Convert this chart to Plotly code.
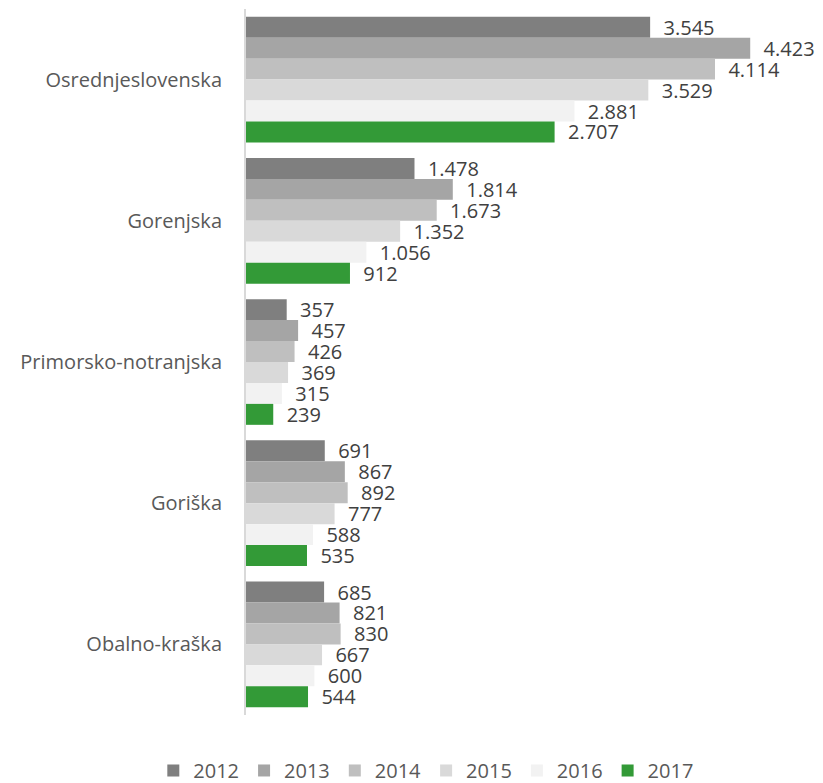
import plotly.graph_objects as go

categories = ["Osrednjeslovenska", "Gorenjska", "Primorsko-notranjska", "Goriška", "Obalno-kraška"]
years = ["2012", "2013", "2014", "2015", "2016", "2017"]
values = {
    "2012": [3545, 1478, 357, 691, 685],
    "2013": [4423, 1814, 457, 867, 821],
    "2014": [4114, 1673, 426, 892, 830],
    "2015": [3529, 1352, 369, 777, 667],
    "2016": [2881, 1056, 315, 588, 600],
    "2017": [2707, 912, 239, 535, 544],
}
colors = ["#7f7f7f", "#a5a5a5", "#bfbfbf", "#d9d9d9", "#f2f2f2", "#339a37"]

FONT = "Open Sans"
FS = 20

fig = go.Figure()
for yr, col in zip(years, colors):
    fig.add_trace(go.Bar(
        name=yr, y=categories, x=values[yr], orientation="h",
        marker=dict(color=col, line=dict(width=0)),
        texttemplate="\u00a0\u00a0%{x:,}", textposition="outside",
        textfont=dict(family=FONT, size=FS, color="#404040"),
        constraintext="none", cliponaxis=False,
    ))

fig.update_layout(
    width=823, height=783,
    barmode="group", bargap=0.11, bargroupgap=0,
    separators=",.",
    plot_bgcolor="white", paper_bgcolor="white",
    margin=dict(l=246, r=7, t=9, b=68, autoexpand=False),
    font=dict(family=FONT, size=FS, color="#595959"),
    xaxis=dict(range=[0, 5000], visible=False, showgrid=False, zeroline=False, automargin=False),
    yaxis=dict(autorange="reversed", showline=True, linecolor="#d9d9d9", linewidth=2,
               automargin=False,
               ticks="", ticklabelstandoff=18, tickfont=dict(family=FONT, size=FS, color="#595959")),
    legend=dict(orientation="h", xref="container", x=0.518, xanchor="center",
                yref="container", y=0.016, yanchor="middle",
                font=dict(family=FONT, size=FS, color="#595959"), traceorder="normal"),
    showlegend=True,
)

fig.write_html("out.html", config={"displayModeBar": False},
               post_script="document.body.style.margin='0';document.body.style.overflow='hidden';")
